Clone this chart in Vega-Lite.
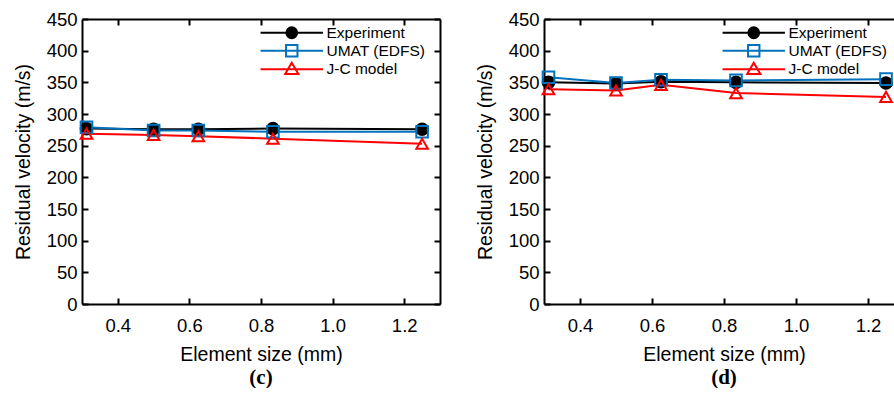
{
  "$schema": "https://vega.github.io/schema/vega-lite/v6.json",
  "padding": {"left": 13, "top": 10, "right": 0, "bottom": 0},
  "background": "white",
  "config": {
    "view": {"stroke": null},
    "font": "Liberation Sans",
    "axis": {
      "labelFont": "Liberation Sans", "labelFontSize": 18.5, "labelColor": "black",
      "titleFont": "Liberation Sans", "titleFontSize": 19.5, "titleFontWeight": "normal", "titleColor": "black",
      "domainColor": "black", "domainWidth": 2, "tickColor": "black", "tickWidth": 2, "grid": false
    },
    "legend": {
      "labelFont": "Liberation Sans", "labelFontSize": 15.5, "labelColor": "black"
    },
    "title": {"font": "Liberation Serif", "fontSize": 21, "fontWeight": "bold", "color": "black"}
  },
  "data": {"values": [
    {"panel": "c", "series": "Experiment", "size": 0.3125, "v": 277},
    {"panel": "c", "series": "Experiment", "size": 0.5, "v": 276},
    {"panel": "c", "series": "Experiment", "size": 0.625, "v": 276},
    {"panel": "c", "series": "Experiment", "size": 0.8333, "v": 277},
    {"panel": "c", "series": "Experiment", "size": 1.25, "v": 276},
    {"panel": "c", "series": "UMAT (EDFS)", "size": 0.3125, "v": 279},
    {"panel": "c", "series": "UMAT (EDFS)", "size": 0.5, "v": 274},
    {"panel": "c", "series": "UMAT (EDFS)", "size": 0.625, "v": 274},
    {"panel": "c", "series": "UMAT (EDFS)", "size": 0.8333, "v": 272},
    {"panel": "c", "series": "UMAT (EDFS)", "size": 1.25, "v": 272},
    {"panel": "c", "series": "J-C model", "size": 0.3125, "v": 269},
    {"panel": "c", "series": "J-C model", "size": 0.5, "v": 267},
    {"panel": "c", "series": "J-C model", "size": 0.625, "v": 265},
    {"panel": "c", "series": "J-C model", "size": 0.8333, "v": 261},
    {"panel": "c", "series": "J-C model", "size": 1.25, "v": 253},
    {"panel": "d", "series": "Experiment", "size": 0.3125, "v": 350},
    {"panel": "d", "series": "Experiment", "size": 0.5, "v": 348},
    {"panel": "d", "series": "Experiment", "size": 0.625, "v": 351},
    {"panel": "d", "series": "Experiment", "size": 0.8333, "v": 350},
    {"panel": "d", "series": "Experiment", "size": 1.25, "v": 349},
    {"panel": "d", "series": "UMAT (EDFS)", "size": 0.3125, "v": 358},
    {"panel": "d", "series": "UMAT (EDFS)", "size": 0.5, "v": 349},
    {"panel": "d", "series": "UMAT (EDFS)", "size": 0.625, "v": 354},
    {"panel": "d", "series": "UMAT (EDFS)", "size": 0.8333, "v": 353},
    {"panel": "d", "series": "UMAT (EDFS)", "size": 1.25, "v": 355},
    {"panel": "d", "series": "J-C model", "size": 0.3125, "v": 339},
    {"panel": "d", "series": "J-C model", "size": 0.5, "v": 337},
    {"panel": "d", "series": "J-C model", "size": 0.625, "v": 346},
    {"panel": "d", "series": "J-C model", "size": 0.8333, "v": 333},
    {"panel": "d", "series": "J-C model", "size": 1.25, "v": 327}
  ]},
  "spacing": 34,
  "hconcat": [
    {
      "width": 358, "height": 285,
      "transform": [{"filter": "datum.panel == 'c'"}],
      "title": {"text": "(c)", "orient": "bottom", "offset": 3},
      "layer": [
        {
          "mark": {"type": "line", "strokeWidth": 2},
          "encoding": {
            "x": {"field": "size", "type": "quantitative", "scale": {"domain": [0.3, 1.3], "nice": false, "zero": false},
              "axis": {"orient": "bottom", "values": [0.4, 0.6, 0.8, 1.0, 1.2], "format": ".1f", "tickSize": -6, "labelPadding": 18, "title": "Element size (mm)", "titlePadding": 11}},
            "y": {"field": "v", "type": "quantitative", "scale": {"domain": [0, 450], "nice": false},
              "axis": {"orient": "left", "values": [0, 50, 100, 150, 200, 250, 300, 350, 400, 450], "tickSize": -6, "labelPadding": 11, "title": "Residual velocity (m/s)", "titlePadding": 13}},
            "stroke": {"field": "series", "type": "nominal", "scale": {"domain": ["Experiment", "UMAT (EDFS)", "J-C model"], "range": ["black", "#0072BD", "#ff0000"]}, "legend": null}
          }
        },
        {
          "mark": {"type": "point", "size": 135, "strokeWidth": 2, "opacity": 1},
          "encoding": {
            "x": {"field": "size", "type": "quantitative", "scale": {"domain": [0.3, 1.3], "nice": false, "zero": false}, "axis": null},
            "y": {"field": "v", "type": "quantitative", "scale": {"domain": [0, 450], "nice": false}, "axis": null},
            "stroke": {"field": "series", "type": "nominal", "scale": {"domain": ["Experiment", "UMAT (EDFS)", "J-C model"], "range": ["black", "#0072BD", "#ff0000"]}, "legend": null},
            "fill": {"field": "series", "type": "nominal", "scale": {"domain": ["Experiment", "UMAT (EDFS)", "J-C model"], "range": ["black", "transparent", "transparent"]}, "legend": null},
            "shape": {"field": "series", "type": "nominal", "scale": {"domain": ["Experiment", "UMAT (EDFS)", "J-C model"], "range": ["circle", "square", "triangle-up"]}, "legend": null}
          }
        },
        {
          "transform": [{"filter": "false"}],
          "mark": {"type": "point", "strokeWidth": 2, "opacity": 1},
          "encoding": {
            "stroke": {"field": "series", "type": "nominal", "scale": {"domain": ["Experiment", "UMAT (EDFS)", "J-C model"], "range": ["black", "#0072BD", "#ff0000"]}, "legend": {"title": null, "orient": "none", "legendX": 202, "legendY": 6, "padding": 0, "symbolSize": 144, "symbolStrokeWidth": 2, "labelOffset": 27, "rowPadding": -2.5}},
            "fill": {"field": "series", "type": "nominal", "scale": {"domain": ["Experiment", "UMAT (EDFS)", "J-C model"], "range": ["black", "transparent", "transparent"]}, "legend": {"title": null, "orient": "none", "legendX": 202, "legendY": 6, "padding": 0, "symbolSize": 144, "symbolStrokeWidth": 2, "labelOffset": 27, "rowPadding": -2.5}},
            "shape": {"field": "series", "type": "nominal", "scale": {"domain": ["Experiment", "UMAT (EDFS)", "J-C model"], "range": ["M-5.2,0H5.2M-0.9,0A0.9,0.9 0 1,0 0.9,0A0.9,0.9 0 1,0 -0.9,0Z", "M-5.2,0H5.2M-0.95,-0.95H0.95V0.95H-0.95Z", "M-5.2,0H5.2M0,-1.1L1.1,0.8L-1.1,0.8Z"]}, "legend": {"title": null, "orient": "none", "legendX": 202, "legendY": 6, "padding": 0, "symbolSize": 144, "symbolStrokeWidth": 2, "labelOffset": 27, "rowPadding": -2.5}}
          }
        },
        {
          "mark": {"type": "point", "opacity": 0},
          "encoding": {
            "x": {"field": "size", "type": "quantitative", "scale": {"domain": [0.3, 1.3], "nice": false, "zero": false},
              "axis": {"orient": "top", "values": [0.4, 0.6, 0.8, 1.0, 1.2], "labels": false, "tickSize": -6, "title": null}},
            "y": {"field": "v", "type": "quantitative", "scale": {"domain": [0, 450], "nice": false},
              "axis": {"orient": "right", "values": [0, 50, 100, 150, 200, 250, 300, 350, 400, 450], "labels": false, "tickSize": -6, "title": null}}
          }
        }
      ],
      "resolve": {"scale": {"x": "independent", "y": "independent", "shape": "independent", "stroke": "independent", "fill": "independent"}}
    },
    {
      "width": 360, "height": 285,
      "transform": [{"filter": "datum.panel == 'd'"}],
      "title": {"text": "(d)", "orient": "bottom", "offset": 3},
      "layer": [
        {
          "mark": {"type": "line", "strokeWidth": 2},
          "encoding": {
            "x": {"field": "size", "type": "quantitative", "scale": {"domain": [0.3, 1.3], "nice": false, "zero": false},
              "axis": {"orient": "bottom", "values": [0.4, 0.6, 0.8, 1.0, 1.2], "format": ".1f", "tickSize": -6, "labelPadding": 18, "title": "Element size (mm)", "titlePadding": 11}},
            "y": {"field": "v", "type": "quantitative", "scale": {"domain": [0, 450], "nice": false},
              "axis": {"orient": "left", "values": [0, 50, 100, 150, 200, 250, 300, 350, 400, 450], "tickSize": -6, "labelPadding": 11, "title": "Residual velocity (m/s)", "titlePadding": 13}},
            "stroke": {"field": "series", "type": "nominal", "scale": {"domain": ["Experiment", "UMAT (EDFS)", "J-C model"], "range": ["black", "#0072BD", "#ff0000"]}, "legend": null}
          }
        },
        {
          "mark": {"type": "point", "size": 135, "strokeWidth": 2, "opacity": 1},
          "encoding": {
            "x": {"field": "size", "type": "quantitative", "scale": {"domain": [0.3, 1.3], "nice": false, "zero": false}, "axis": null},
            "y": {"field": "v", "type": "quantitative", "scale": {"domain": [0, 450], "nice": false}, "axis": null},
            "stroke": {"field": "series", "type": "nominal", "scale": {"domain": ["Experiment", "UMAT (EDFS)", "J-C model"], "range": ["black", "#0072BD", "#ff0000"]}, "legend": null},
            "fill": {"field": "series", "type": "nominal", "scale": {"domain": ["Experiment", "UMAT (EDFS)", "J-C model"], "range": ["black", "transparent", "transparent"]}, "legend": null},
            "shape": {"field": "series", "type": "nominal", "scale": {"domain": ["Experiment", "UMAT (EDFS)", "J-C model"], "range": ["circle", "square", "triangle-up"]}, "legend": null}
          }
        },
        {
          "transform": [{"filter": "false"}],
          "mark": {"type": "point", "strokeWidth": 2, "opacity": 1},
          "encoding": {
            "stroke": {"field": "series", "type": "nominal", "scale": {"domain": ["Experiment", "UMAT (EDFS)", "J-C model"], "range": ["black", "#0072BD", "#ff0000"]}, "legend": {"title": null, "orient": "none", "legendX": 202, "legendY": 6, "padding": 0, "symbolSize": 144, "symbolStrokeWidth": 2, "labelOffset": 27, "rowPadding": -2.5}},
            "fill": {"field": "series", "type": "nominal", "scale": {"domain": ["Experiment", "UMAT (EDFS)", "J-C model"], "range": ["black", "transparent", "transparent"]}, "legend": {"title": null, "orient": "none", "legendX": 202, "legendY": 6, "padding": 0, "symbolSize": 144, "symbolStrokeWidth": 2, "labelOffset": 27, "rowPadding": -2.5}},
            "shape": {"field": "series", "type": "nominal", "scale": {"domain": ["Experiment", "UMAT (EDFS)", "J-C model"], "range": ["M-5.2,0H5.2M-0.9,0A0.9,0.9 0 1,0 0.9,0A0.9,0.9 0 1,0 -0.9,0Z", "M-5.2,0H5.2M-0.95,-0.95H0.95V0.95H-0.95Z", "M-5.2,0H5.2M0,-1.1L1.1,0.8L-1.1,0.8Z"]}, "legend": {"title": null, "orient": "none", "legendX": 202, "legendY": 6, "padding": 0, "symbolSize": 144, "symbolStrokeWidth": 2, "labelOffset": 27, "rowPadding": -2.5}}
          }
        },
        {
          "mark": {"type": "point", "opacity": 0},
          "encoding": {
            "x": {"field": "size", "type": "quantitative", "scale": {"domain": [0.3, 1.3], "nice": false, "zero": false},
              "axis": {"orient": "top", "values": [0.4, 0.6, 0.8, 1.0, 1.2], "labels": false, "tickSize": -6, "title": null}},
            "y": {"field": "v", "type": "quantitative", "scale": {"domain": [0, 450], "nice": false},
              "axis": {"orient": "right", "values": [0, 50, 100, 150, 200, 250, 300, 350, 400, 450], "labels": false, "tickSize": -6, "title": null}}
          }
        }
      ],
      "resolve": {"scale": {"x": "independent", "y": "independent", "shape": "independent", "stroke": "independent", "fill": "independent"}}
    }
  ]
}
